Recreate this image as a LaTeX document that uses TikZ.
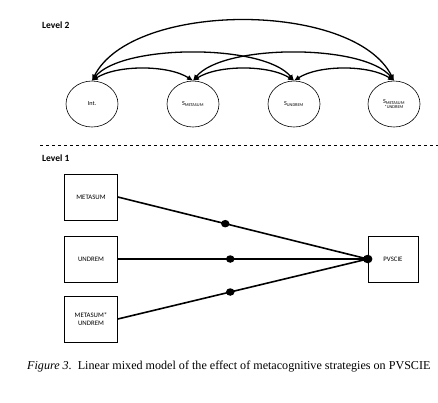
\documentclass[tikz,border=0pt]{standalone}
\usepackage{fontspec}
\setmainfont{Carlito}
\newfontfamily\captionserif{Liberation Serif}
\usetikzlibrary{positioning, shapes.geometric, arrows.meta}

\begin{document}
\begin{tikzpicture}[x=1pt, y=-1pt,
    lmLevel/.style={font=\bfseries\fontsize{9.5}{10}\selectfont, anchor=west, inner sep=0pt},
    lmLatent/.style={draw=black, line width=0.6pt, ellipse, minimum width=52pt, minimum height=46pt, inner sep=0pt, align=center, font=\fontsize{6.2}{6.5}\selectfont},
    lmVar/.style={draw=black, line width=0.6pt, rectangle, minimum width=53pt, minimum height=46pt, inner sep=1pt, align=center, font=\fontsize{6.8}{8.5}\selectfont},
    lmCov/.style={{Latex[length=6pt,width=5.5pt]}-{Latex[length=6pt,width=5.5pt]}, line width=1.3pt},
    lmPath/.style={line width=1.6pt},
    lmDot/.style={ellipse, fill=black, minimum width=8.5pt, minimum height=7.5pt, inner sep=0pt},
    lmSep/.style={dash pattern=on 3pt off 3pt, line width=0.7pt},
    lmCaption/.style={font=\captionserif\fontsize{12.1}{14}\selectfont, anchor=west, inner sep=0pt},
]
\useasboundingbox (0,0) rectangle (438,402);
\fill[white] (0,0) rectangle (438,402);

% level 2
\node[lmLevel] (lvlTwo) at (42,25) {Level 2};
\node[lmLatent] (int) at (92,104) {Int.};
\node[lmLatent] (sMeta) at (193,104) {S\textsubscript{METASUM}};
\node[lmLatent] (sUnd) at (294,104) {S\textsubscript{UNDREM}};
\node[lmLatent] (sInter) at (394,104) {S\textsubscript{METASUM}\\[-1pt]{\fontsize{4.4}{5}\selectfont *UNDREM}};

\draw[lmCov] (int.north) .. controls +(40,-80) and +(-40,-80) .. (sInter.north);
\draw[lmCov] (int.north) .. controls +(30,-37) and +(-30,-37) .. (sUnd.north);
\draw[lmCov] (sMeta.north) .. controls +(30,-37) and +(-30,-37) .. (sInter.north);
\draw[lmCov] (int.north) .. controls +(25,-16) and +(-25,-16) .. (sMeta.north);
\draw[lmCov] (sMeta.north) .. controls +(25,-16) and +(-25,-16) .. (sUnd.north);
\draw[lmCov] (sUnd.north) .. controls +(25,-16) and +(-25,-16) .. (sInter.north);

\draw[lmSep] (40,145) -- (438,145);

% level 1
\node[lmLevel] (lvlOne) at (42,158) {Level 1};
\node[lmVar] (metasum) at (91,197) {METASUM};
\node[lmVar] (undrem) at (91,259) {UNDREM};
\node[lmVar] (inter) at (91,319) {METASUM*\\UNDREM};
\node[lmVar, minimum width=50pt] (pvscie) at (393,259) {PVSCIE};

\draw[lmPath] (metasum.east) -- (pvscie.west) node[lmDot, pos=0.43] {};
\draw[lmPath] (undrem.east) -- (pvscie.west) node[lmDot, pos=0.45] {};
\draw[lmPath] (inter.east) -- (pvscie.west) node[lmDot, pos=0.45] {};
\node[lmDot, minimum width=9.5pt, minimum height=8.5pt] (hub) at (pvscie.west) {};

\node[lmCaption] (caption) at (27,367) {\textit{Figure 3.}\ \ Linear mixed model of the effect of metacognitive strategies on PVSCIE};
\end{tikzpicture}
\end{document}
